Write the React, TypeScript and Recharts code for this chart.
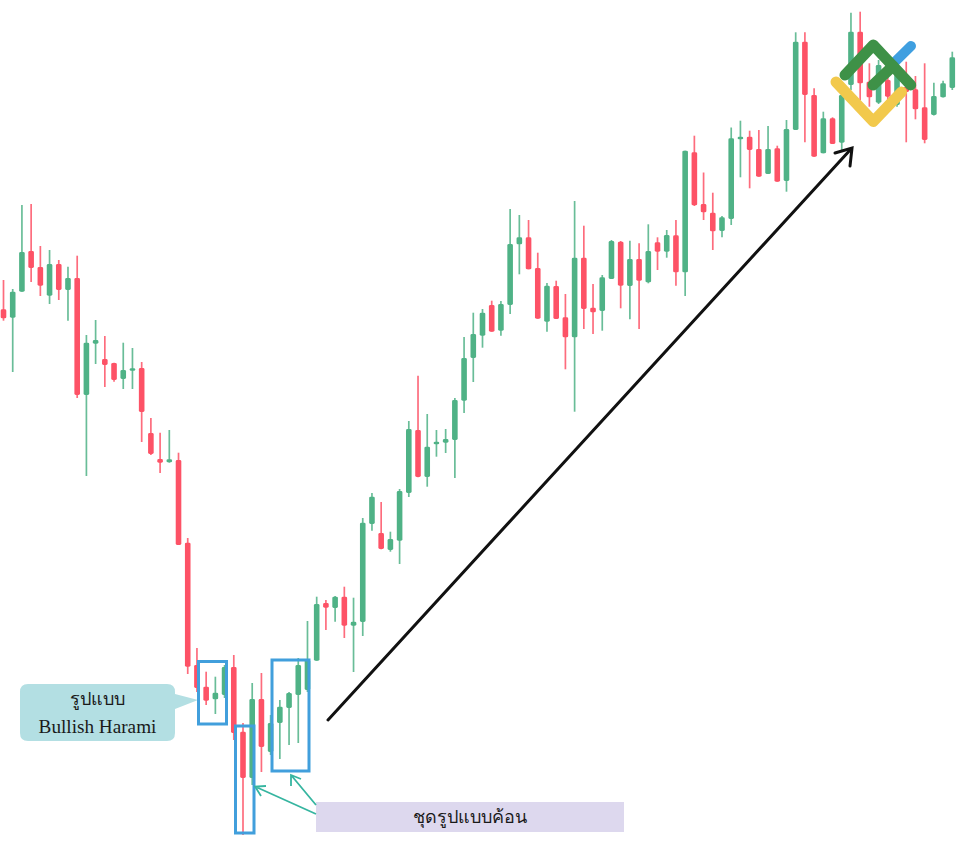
import { Bar, ComposedChart, XAxis, YAxis } from "recharts";

const GREEN = "#4fb286";
const RED = "#fd5266";

// left to right
const opens = [
  537.7, 529.3, 555.3, 596, 580, 551.3, 583, 557, 569, 452, 503.3, 488, 484, 468, 476.3, 479, 414, 388, 384.7, 387,
  304.3, 182, 160.3, 147.7, 152, 180, 115.3, 69, 148, 95, 124, 139, 152, 157, 186.3, 244, 239, 250.3, 221.3, 225,
  323, 314, 297, 306.3, 354, 417, 370, 403.7, 404.3, 407, 446.3, 489, 511.3, 542, 516.3, 542, 602.7, 609.7, 579, 525.3,
  561, 529.7, 509.7, 589.3, 539.3, 536, 568, 605.3, 561, 588, 564.7, 604.7, 595.3, 611.7, 574.7, 694.7, 643, 634.3, 616, 628,
  708.3, 710.3, 698, 673, 698.7, 666, 717, 805.3, 752, 693.7, 728.7, 704.3, 762, 815.3, 765.3, 744.3, 767, 742, 760, 757.7,
  739.7, 732, 749.7, 759,
];
const highs = [
  567, 558, 642, 643, 601, 597, 587, 580.3, 591.3, 512, 527, 511, 484.3, 504.3, 499, 485, 429, 414.3, 417, 394.3,
  309, 199, 175.3, 170.3, 182, 192, 124, 164, 174, 132, 147, 155, 189, 226, 250.3, 247, 251, 260.3, 249.3, 329,
  354, 345, 315.3, 358, 426, 471.3, 433, 417, 418, 449, 510, 534.3, 538, 546.3, 546, 638, 632, 627, 594.3, 564,
  566.3, 553, 646, 621.3, 563, 572, 607, 606, 606.3, 603.7, 622.7, 609.7, 617, 627, 696.3, 711.3, 674.5, 654.3, 631, 719.5,
  726.3, 716.3, 717, 721, 701.3, 727, 814.7, 814.7, 758.7, 735.3, 729.7, 757, 834.3, 835.3, 783.7, 787, 789, 780.3, 785.3, 771,
  783.7, 764.3, 766.3, 795.3,
];
const lows = [
  526.3, 475, 555.3, 565, 551, 543, 547, 526.3, 449, 371, 483, 460, 465.3, 458, 458, 405, 392, 374, 384.3, 302,
  173, 155, 142, 133, 149, 107, 12, 62, 75, 92, 88, 102, 104, 155, 186.3, 217, 225.3, 209, 175, 211,
  316.3, 297.7, 295.3, 283, 350, 369.7, 360.3, 390.3, 394, 369, 434, 465, 499.3, 515.3, 511.3, 533, 572.7, 577.7, 528.3, 515.3,
  528, 477.7, 435.3, 518, 513, 516.3, 568, 538.7, 527.7, 518, 563.7, 577, 589.3, 561.3, 551, 641, 627, 597, 609.7, 622,
  669.7, 658.7, 670.3, 673, 665.3, 655.3, 717, 704.7, 690.3, 693.7, 703, 697, 757, 747, 740.3, 743, 742, 740.3, 704.7, 727.7,
  703.7, 731.5, 749.5, 757,
];
const closes = [
  528.7, 555.3, 595, 579, 561.3, 583, 557, 569, 452, 504.3, 507, 482, 467, 477, 478.7, 435, 393, 384.3, 387.7, 302,
  180.3, 159, 146.3, 154.3, 180, 114, 69, 148, 100, 124, 140.3, 154, 182, 187, 243, 239.3, 250.3, 221.3, 225.3, 324.3,
  350.3, 298, 308, 356, 418, 370, 400.3, 405.3, 408, 447, 489, 513, 534.3, 515.3, 543, 603, 609.7, 577.7, 528.3, 561.3,
  528, 509.7, 589.3, 538, 534.7, 569.7, 606, 561.3, 588, 566.3, 596, 595.3, 612, 574.7, 696.3, 641.7, 634.7, 615.7, 629.7, 708.7,
  710.3, 697, 670.3, 698, 665.3, 718, 805.3, 752, 690.3, 728.7, 703, 752, 815.3, 763.7, 749.7, 782, 750.3, 775, 755, 737.7,
  707, 751, 763.7, 789.7,
];

const candles = opens.map((open, i) => ({
  session: i + 1,
  open,
  high: highs[i],
  low: lows[i],
  close: closes[i],
}));

// wick and body for one session, y and height come from the bar's low..high range
const Candle = (props: any) => {
  const { x, y, width, height, payload } = props;
  const perUnit = height / (payload.high - payload.low);
  const top = Math.max(payload.open, payload.close);
  const bottom = Math.min(payload.open, payload.close);
  const bodyY = y + (payload.high - top) * perUnit;
  const bodyH = Math.max((top - bottom) * perUnit, 2.5);
  const color = payload.close >= payload.open ? GREEN : RED;
  const mid = x + width / 2;
  return (
    <g>
      <line x1={mid} x2={mid} y1={y} y2={y + height} stroke={color} strokeWidth={1.7} strokeOpacity={0.85} />
      <rect x={mid - 2.8} y={bodyY} width={5.6} height={bodyH} rx={1.4} fill={color} />
    </g>
  );
};

const labelFont = '"Liberation Serif", serif';

function Annotations() {
  return (
    <svg width={956} height={847} style={{ position: "absolute", left: 0, top: 0 }}>
      {/* callout */}
      <path d="M28 684 H167 Q175 684 175 692 V694 L198 700 L175 709 V733 Q175 741 167 741 H28 Q20 741 20 733 V692 Q20 684 28 684 Z" fill="#b3dfe3" />

      {/* pattern boxes */}
      <g fill="none" stroke="#419fdc" strokeWidth={3}>
        <rect x={198.5} y={661.5} width={28} height={62.5} />
        <rect x={235.5} y={726} width={18.5} height={107} />
        <rect x={272} y={660} width={37} height={111} />
      </g>

      {/* label box and its arrows */}
      <rect x={316} y={802} width={308} height={30} fill="#ddd8ee" />
      <g fill="none" stroke="#36b5a0" strokeWidth={1.8}>
        <path d="M316 814 L255 786.5 M266 786 L255 786.5 L261 796" />
        <path d="M316 805 L291 775 M301 779 L291 775 L291 786" />
      </g>

      {/* trend arrow */}
      <g fill="none" stroke="#111" strokeWidth={3} strokeLinecap="round">
        <path d="M328 720 L851 149" />
        <path d="M835 153 L852 148 L850 166" />
      </g>

      {/* logo */}
      <g fill="none" strokeLinecap="round" strokeLinejoin="round" strokeWidth={11}>
        <path d="M895 61.7 L911 46" stroke="#3f9fe0" strokeWidth={10} />
        <path d="M836 82 L873.3 121.5 L901.5 92" stroke="#f2c94c" />
        <path d="M845 75 L873.3 45 L910.7 85" stroke="#3e9147" />
        <path d="M873 85 L893 66" stroke="#3e9147" />
      </g>
    </svg>
  );
}

const textStyle = {
  position: "absolute" as const,
  fontFamily: labelFont,
  fontSize: 18,
  color: "#1a1a1a",
  textAlign: "center" as const,
  whiteSpace: "nowrap" as const,
};

export default function App() {
  return (
    <div style={{ position: "absolute", left: 0, top: 0, width: 956, height: 847, overflow: "hidden", background: "#fff" }}>
      <div style={{ position: "absolute", left: -1, top: 0, filter: "blur(0.4px)" }}>
        <ComposedChart
          width={958}
          height={847}
          data={candles}
          margin={{ top: 0, right: 0, bottom: 0, left: 0 }}
          barCategoryGap={0}
        >
          <XAxis dataKey="session" hide />
          <YAxis hide domain={[0, 847]} />
          <Bar dataKey={(d: any) => [d.low, d.high]} shape={Candle} isAnimationActive={false} />
        </ComposedChart>
      </div>
      <Annotations />
      <div style={{ ...textStyle, left: 20, top: 686, width: 155, lineHeight: "27px" }}>
        รูปแบบ
        <br />
        <span style={{ fontSize: 19.2 }}>Bullish Harami</span>
      </div>
      <div style={{ ...textStyle, left: 316, top: 804, width: 308, lineHeight: "26px" }}>ชุดรูปแบบค้อน</div>
    </div>
  );
}
